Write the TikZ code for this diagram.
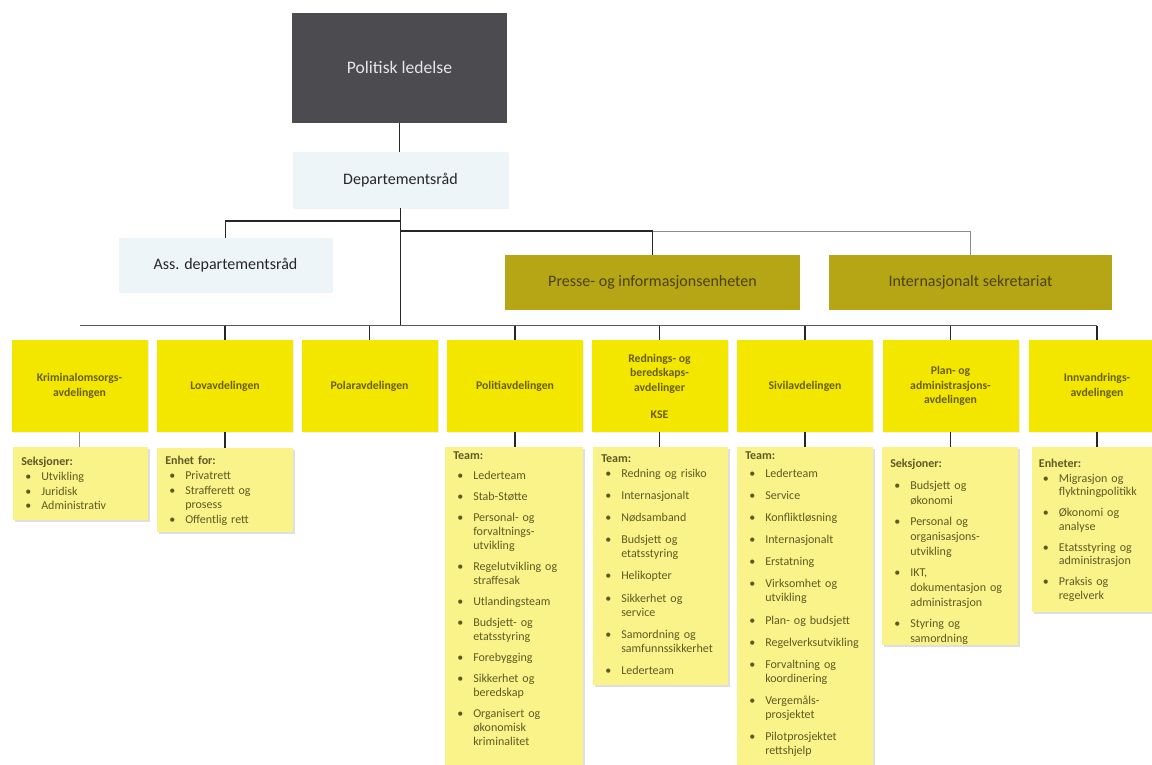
\documentclass[tikz,border=0pt]{standalone}
\usepackage{fontspec}
\setmainfont{Carlito}
\usetikzlibrary{shadows}
\definecolor{polfill}{HTML}{4C4B50}
\definecolor{poltext}{HTML}{E6E6E6}
\definecolor{lightfill}{HTML}{EEF5F9}
\definecolor{olivefill}{HTML}{B6A514}
\definecolor{olivetext}{HTML}{4A430A}
\definecolor{deptfill}{HTML}{F3E700}
\definecolor{depttext}{HTML}{675E00}
\definecolor{listfill}{HTML}{F9F38A}
\definecolor{listtext}{HTML}{5E5A24}
\newlength\igap
\newcommand\lsthd[1]{\noindent{\bfseries #1}\par}
\newcommand\lstit[2][\igap]{\vspace{#1}\hangindent=15pt\hangafter=1\noindent\makebox[15pt][l]{\hspace{3pt}\textbullet}#2\par}
\begin{document}
\begin{tikzpicture}[x=0.75pt,y=-0.75pt,
  topbox/.style={rectangle, inner sep=0pt, align=center, font=\fontsize{12}{14}\selectfont},
  polbox/.style={topbox, fill=polfill, text=poltext, minimum width=161.25pt, minimum height=82.5pt, font=\fontsize{13.2}{15}\selectfont},
  lightbox/.style={topbox, fill=lightfill, text=black!85, drop shadow={shadow xshift=1pt, shadow yshift=-1pt, opacity=0.1}},
  olivebox/.style={topbox, fill=olivefill, text=olivetext},
  dept/.style={rectangle, fill=deptfill, text=depttext, minimum width=102pt, minimum height=69pt, align=center, inner sep=0pt, font=\fontsize{8.8}{11}\selectfont\bfseries, drop shadow={shadow xshift=1pt, shadow yshift=-1pt, opacity=0.12}},
  listbox/.style={rectangle, fill=listfill, anchor=north west, inner sep=0pt, drop shadow={shadow xshift=1.5pt, shadow yshift=-1.5pt, opacity=0.25}},
  listtxt/.style={anchor=north west, inner sep=0pt, text=listtext, align=left, text width=100pt, font=\fontsize{9}{10.5}\selectfont},
  conn/.style={draw=black!85, line width=1.1pt},
  lightconn/.style={draw=black!45, line width=0.7pt},
  busline/.style={draw=black!65, line width=1.2pt}
]
\useasboundingbox (0,0) rectangle (1152,764);
\fill[white] (0,0) rectangle (1152,764);
\clip (0,0) rectangle (1152,764);

% top boxes
\node[polbox] (pol) at (399.5,67.5) {Politisk ledelse};
\node[lightbox, minimum width=161.25pt, minimum height=42pt] (dep) at (400.5,180) {Departementsråd};
\node[lightbox, minimum width=159.75pt, minimum height=40.5pt] (ass) at (225.5,265) {Ass. departementsråd};
\node[olivebox, minimum width=221.25pt, minimum height=41.25pt] (pres) at (652.5,282.5) {Presse- og informasjonsenheten};
\node[olivebox, minimum width=212.25pt, minimum height=41.25pt] (intl) at (970.5,282.5) {Internasjonalt sekretariat};

% departments
\node[dept] (d1) at (79.5,386) {Kriminalomsorgs-\\avdelingen};
\node[dept] (d2) at (225,386) {Lovavdelingen};
\node[dept] (d3) at (369.5,386) {Polaravdelingen};
\node[dept] (d4) at (515,386) {Politiavdelingen};
\node[dept] (d5) at (659.5,386) {Rednings- og\\beredskaps-\\avdelinger\\[9pt]KSE};
\node[dept] (d6) at (805,386) {Sivilavdelingen};
\node[dept] (d7) at (950.5,386) {Plan- og\\administrasjons-\\avdelingen};
\node[dept] (d8) at (1097,386) {Innvandrings-\\avdelingen};

% list boxes
\node[listbox, minimum width=101.25pt, minimum height=54.75pt] (l1) at (13,447) {};
\node[listbox, minimum width=102pt, minimum height=63pt] (l2) at (157,448) {};
\node[listbox, minimum width=103.5pt, minimum height=247.5pt] (l4) at (445,447) {};
\node[listbox, minimum width=101.25pt, minimum height=178.5pt] (l5) at (593,447) {};
\node[listbox, minimum width=102pt, minimum height=247.5pt] (l6) at (737,447) {};
\node[listbox, minimum width=102pt, minimum height=148.5pt] (l7) at (882,447) {};
\node[listbox, minimum width=102pt, minimum height=123.75pt] (l8) at (1032,447) {};

% list texts
\node[listtxt, font=\fontsize{9}{11}\selectfont] (t1) at ([xshift=6pt,yshift=-7.7pt]l1.north west)
 {\setlength\igap{0pt}\lsthd{Seksjoner:}\lstit{Utvikling}\lstit{Juridisk}\lstit{Administrativ}};
\node[listtxt, font=\fontsize{9}{10.9}\selectfont] (t2) at ([xshift=6pt,yshift=-6.2pt]l2.north west)
 {\setlength\igap{0pt}\lsthd{Enhet for:}\lstit{Privatrett}\lstit{Strafferett og\newline prosess}\lstit{Offentlig rett}};
\node[listtxt] (t4) at ([xshift=6pt,yshift=-3.2pt]l4.north west)
 {\setlength\igap{5.3pt}\lsthd{Team:}\lstit[4.5pt]{Lederteam}\lstit{Stab-Støtte}\lstit{Personal- og\newline forvaltnings-\newline utvikling}\lstit{Regelutvikling og\newline straffesak}\lstit{Utlandingsteam}\lstit{Budsjett- og\newline etatsstyring}\lstit{Forebygging}\lstit{Sikkerhet og\newline beredskap}\lstit{Organisert og\newline økonomisk\newline kriminalitet}};
\node[listtxt] (t5) at ([xshift=6pt,yshift=-5.5pt]l5.north west)
 {\setlength\igap{6.1pt}\lsthd{Team:}\lstit[0.75pt]{Redning og risiko}\lstit{Internasjonalt}\lstit{Nødsamband}\lstit{Budsjett og\newline etatsstyring}\lstit{Helikopter}\lstit{Sikkerhet og\newline service}\lstit{Samordning og\newline samfunnssikkerhet}\lstit{Lederteam}};
\node[listtxt] (t6) at ([xshift=6pt,yshift=-3.2pt]l6.north west)
 {\setlength\igap{6.1pt}\lsthd{Team:}\lstit[3pt]{Lederteam}\lstit{Service}\lstit{Konfliktløsning}\lstit{Internasjonalt}\lstit{Erstatning}\lstit{Virksomhet og\newline utvikling}\lstit{Plan- og budsjett}\lstit{Regelverksutvikling}\lstit{Forvaltning og\newline koordinering}\lstit{Vergemåls-\newline prosjektet}\lstit{Pilotprosjektet\newline rettshjelp}};
\node[listtxt, font=\fontsize{9}{11.25}\selectfont] (t7) at ([xshift=6pt,yshift=-9.2pt]l7.north west)
 {\setlength\igap{4.3pt}\lsthd{Seksjoner:}\lstit[5.25pt]{Budsjett og\newline økonomi}\lstit{Personal og\newline organisasjons-\newline utvikling}\lstit{IKT,\newline dokumentasjon og\newline administrasjon}\lstit{Styring og\newline samordning}};
\node[listtxt, font=\fontsize{9}{10.1}\selectfont] (t8) at ([xshift=5pt,yshift=-8.5pt]l8.north west)
 {\setlength\igap{5.6pt}\lsthd{Enheter:}\lstit[1.5pt]{Migrasjon og\newline flyktningpolitikk}\lstit{Økonomi og\newline analyse}\lstit{Etatsstyring og\newline administrasjon}\lstit{Praksis og\newline regelverk}};

% connectors
\coordinate (ja) at (400.5,221);
\coordinate (jb) at (400.5,231);
\coordinate (bus) at (400.5,325.5);
\draw[conn] (pol.south) -- (pol.south |- dep.north);
\draw[conn] (dep.south) -- (bus);
\draw[conn] (ja) -| (ass.north);
\draw[conn] (jb) -| (pres.north);
\draw[lightconn] (pres.north |- jb) -| (intl.north);
\draw[busline] (d1.north |- bus) -- (d8.north |- bus);
\foreach \i in {2,...,8} {\draw[conn] (d\i.north |- bus) -- (d\i.north);}
\draw[lightconn] (d1.south) -- (d1.south |- l1.north);
\foreach \i in {2,4,5,6,7,8} {\draw[conn] (d\i.south) -- (d\i.south |- l\i.north);}
\end{tikzpicture}
\end{document}
